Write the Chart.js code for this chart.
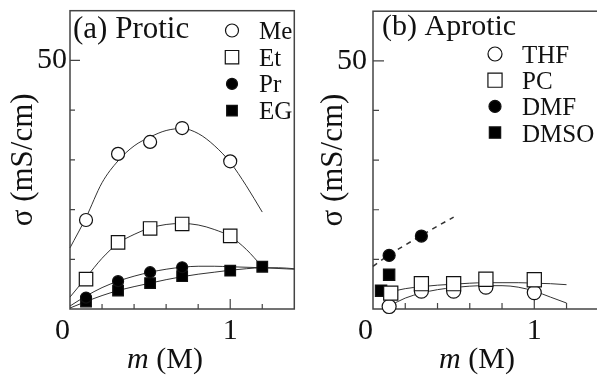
<!DOCTYPE html>
<html><head><meta charset="utf-8">
<script src="https://cdn.jsdelivr.net/npm/chart.js@4.4.1/dist/chart.umd.min.js"></script>
<style>
html,body{margin:0;padding:0;background:#fff;overflow:hidden}
#wrap{position:relative;width:597px;height:378px;overflow:hidden;background:#fff}
#pa{position:absolute;left:0;top:0;width:305px;height:378px}
#pb{position:absolute;left:300px;top:0;width:310px;height:378px}
</style></head><body>
<div id="wrap"><div id="pa"><canvas id="ca"></canvas></div><div id="pb"><canvas id="cb"></canvas></div></div>
<script>
// ---------- data: (a) protic ----------
const meM = [0.1, 0.3, 0.5, 0.7, 1.0];
const meSigma = [17.9, 31.2, 33.6, 36.4, 29.7];
const etM = [0.1, 0.3, 0.5, 0.7, 1.0];
const etSigma = [6.0, 13.4, 16.2, 17.1, 14.7];
const prM = [0.1, 0.3, 0.5, 0.7];
const prSigma = [2.3, 5.6, 7.4, 8.4];
const egM = [0.1, 0.3, 0.5, 0.7, 1.0, 1.2];
const egSigma = [1.5, 3.7, 5.2, 6.6, 7.7, 8.5];
// fitted curves
const meFitM = [0, 0.1, 0.2, 0.3, 0.4, 0.5, 0.6, 0.7, 0.8, 0.9, 1.0, 1.1, 1.2];
const meFit = [12.3, 18.4, 25.4, 29.8, 32.8, 34.6, 35.9, 36.3, 35.3, 32.9, 29.5, 24.8, 19.5];
const etFitM = [0, 0.1, 0.2, 0.3, 0.4, 0.5, 0.6, 0.7, 0.8, 0.9, 1.0, 1.1, 1.2];
const etFit = [2.4, 6.3, 10.2, 13.2, 15.0, 16.3, 17.0, 17.2, 16.9, 16.0, 14.6, 12.0, 8.5];
const prFitM = [0, 0.1, 0.2, 0.3, 0.4, 0.5, 0.6, 0.7, 0.8, 0.9, 1.0, 1.2, 1.4];
const prFit = [0.6, 2.6, 4.3, 5.6, 6.6, 7.4, 8.0, 8.4, 8.6, 8.6, 8.5, 8.3, 8.0];
const egFitM = [0, 0.1, 0.2, 0.3, 0.4, 0.5, 0.6, 0.7, 0.8, 0.9, 1.0, 1.1, 1.2, 1.3, 1.4];
const egFit = [0.2, 1.5, 2.7, 3.7, 4.5, 5.2, 5.9, 6.5, 7.0, 7.4, 7.8, 8.1, 8.3, 8.3, 8.1];

// ---------- data: (b) aprotic ----------
const thfM = [0.1, 0.3, 0.5, 0.7, 1.0];
const thfSigma = [0.5, 3.6, 3.6, 4.4, 3.3];
const pcM = [0.11, 0.3, 0.5, 0.7, 1.0];
const pcSigma = [3.2, 5.1, 5.1, 6.0, 5.9];
const dmfM = [0.1, 0.3];
const dmfSigma = [10.8, 14.7];
const dmsoM = [0.05, 0.1];
const dmsoSigma = [3.7, 6.9];
const thfFitM = [0.1, 0.2, 0.3, 0.4, 0.5, 0.6, 0.7, 0.8, 0.9, 1.0, 1.1, 1.2];
const thfFit = [0.6, 2.2, 3.2, 3.9, 4.3, 4.6, 4.7, 4.7, 4.4, 3.6, 2.4, 1.2];
const pcFitM = [0.1, 0.2, 0.3, 0.4, 0.5, 0.6, 0.7, 0.8, 0.9, 1.0, 1.1, 1.2];
const pcFit = [3.4, 4.1, 4.5, 4.8, 5.0, 5.2, 5.3, 5.3, 5.3, 5.2, 5.1, 4.9];
const dmfFitM = [0, 0.1, 0.2, 0.3, 0.4, 0.5];
const dmfFit = [8.6, 10.9, 12.9, 14.8, 16.7, 18.5];

// ---------- ticks ----------
const xLabelTicks = [0, 1];
const xMinorTicks = [0.2, 0.4, 0.6, 0.8, 1.2];
const xMajorTicks = [1];
const yLabelTicks = [50];
const yMinorTicks = [10, 20, 30, 40];
const yMajorTicks = [50];

const FONT = "'Liberation Serif','Times New Roman',serif";
const INK = '#111';

function pts(xs, ys) { return xs.map((v, i) => ({x: v, y: ys[i]})); }
function curve(xs, ys, dash) {
  return {data: pts(xs, ys), showLine: true, pointRadius: 0, borderColor: '#333',
    borderWidth: dash ? 1.5 : 1, borderDash: dash ? [5, 5] : [], cubicInterpolationMode: 'monotone',
    order: 10, clip: false, isMarker: false};
}
function marker(label, xs, ys, style, r, filled, order) {
  return {label, data: pts(xs, ys), showLine: false, pointStyle: style, pointRadius: r,
    pointBackgroundColor: filled ? '#000' : '#fff', pointBorderColor: INK, pointBorderWidth: 1.2,
    order, clip: false, isMarker: true};
}

function drawMark(ctx, style, r, fill, x, y) {
  ctx.save();
  ctx.fillStyle = fill; ctx.strokeStyle = INK; ctx.lineWidth = 1.2;
  ctx.beginPath();
  if (style === 'rect') { const s = r * Math.SQRT1_2; ctx.rect(x - s, y - s, 2 * s, 2 * s); }
  else { ctx.arc(x, y, r, 0, Math.PI * 2); }
  ctx.fill(); ctx.stroke();
  ctx.restore();
}

const panelPlugin = {
  id: 'panel',
  beforeDatasetsDraw(chart, args, o) {
    const {ctx, chartArea: a, scales: {x, y}} = chart;
    ctx.save();
    ctx.strokeStyle = '#444'; ctx.lineWidth = 1.5;
    ctx.strokeRect(a.left, a.top, a.right - a.left, a.bottom - a.top);
    ctx.lineWidth = 1.2;
    ctx.beginPath();
    yMinorTicks.forEach(v => { const p = y.getPixelForValue(v); ctx.moveTo(a.left, p); ctx.lineTo(a.left + o.minorLen, p); });
    yMajorTicks.forEach(v => { const p = y.getPixelForValue(v); ctx.moveTo(a.left, p); ctx.lineTo(a.left + o.majorLen, p); });
    xMinorTicks.forEach(v => { const p = x.getPixelForValue(v); ctx.moveTo(p, a.bottom); ctx.lineTo(p, a.bottom - o.minorLen); });
    xMajorTicks.forEach(v => { const p = x.getPixelForValue(v); ctx.moveTo(p, a.bottom); ctx.lineTo(p, a.bottom - o.majorLen); });
    ctx.stroke();
    ctx.restore();
  },
  afterDraw(chart, args, o) {
    const {ctx, chartArea: a} = chart;
    ctx.save();
    ctx.fillStyle = INK;
    ctx.textBaseline = 'alphabetic';
    ctx.textAlign = 'left';
    // panel title
    ctx.font = o.titleSize + 'px ' + FONT;
    ctx.fillText(o.title, o.titleX, o.titleY);
    // legend
    ctx.font = o.legendSize + 'px ' + FONT;
    const items = chart.data.datasets.filter(d => d.isMarker).sort((p, q) => p.legendIndex - q.legendIndex);
    items.forEach((d, i) => {
      const by = o.legendY + i * o.legendStep;
      drawMark(ctx, d.pointStyle, d.pointRadius * o.legendScale, d.pointBackgroundColor, o.legendX, by - o.markerLift);
      ctx.fillStyle = INK;
      ctx.fillText(d.label, o.legendTextX, by);
    });
    // x-axis title: italic m + (M)
    const f1 = 'italic 30px ' + FONT, f2 = '30px ' + FONT;
    ctx.font = f1; const w1 = ctx.measureText('m').width;
    ctx.font = f2; const w2 = ctx.measureText(' (M)').width;
    const x0 = a.left + o.xTitleOffset - (w1 + w2) / 2;
    ctx.font = f1; ctx.fillText('m', x0, o.xTitleY);
    ctx.font = f2; ctx.fillText(' (M)', x0 + w1, o.xTitleY);
    ctx.restore();
  }
};

function scalesFor(yWidth, yTickPad, yTitlePad) {
  return {
    x: {
      type: 'linear', min: 0, max: 1.4,
      afterBuildTicks(s) { s.ticks = xLabelTicks.map(v => ({value: v})); },
      afterFit(s) { s.height = 69; s.paddingLeft = 0; s.paddingRight = 0; },
      grid: {display: false, drawTicks: false}, border: {display: false},
      ticks: {autoSkip: false, maxRotation: 0, minRotation: 0, padding: 4, color: INK,
        font: {family: FONT, size: 30},
        callback: v => (Math.abs(v) < 1e-9 ? '0  ' : String(Math.round(v)))}
    },
    y: {
      type: 'linear', min: 0, max: 60,
      afterBuildTicks(s) { s.ticks = yLabelTicks.map(v => ({value: v})); },
      afterFit(s) { s.width = yWidth; s.paddingTop = 0; s.paddingBottom = 0; },
      grid: {display: false, drawTicks: false}, border: {display: false},
      ticks: {padding: yTickPad, color: INK, font: {family: FONT, size: 30}, callback: v => String(v)},
      title: {display: true, text: 'σ (mS/cm)', color: INK, font: {family: FONT, size: 31},
        padding: {top: yTitlePad, bottom: 0}}
    }
  };
}

const dsA = [
  curve(meFitM, meFit), curve(etFitM, etFit), curve(prFitM, prFit), curve(egFitM, egFit),
  Object.assign(marker('Me', meM, meSigma, 'circle', 6.5, false, 2), {legendIndex: 0}),
  Object.assign(marker('Et', etM, etSigma, 'rect', 9.5, false, 2), {legendIndex: 1}),
  Object.assign(marker('Pr', prM, prSigma, 'circle', 5.5, true, 1), {legendIndex: 2}),
  Object.assign(marker('EG', egM, egSigma, 'rect', 7.5, true, 1), {legendIndex: 3})
];
const dsB = [
  curve(thfFitM, thfFit), curve(pcFitM, pcFit), curve(dmfFitM, dmfFit, true),
  Object.assign(marker('THF', thfM, thfSigma, 'circle', 7, false, 4), {legendIndex: 0}),
  Object.assign(marker('PC', pcM, pcSigma, 'rect', 10, false, 1), {legendIndex: 1}),
  Object.assign(marker('DMF', dmfM, dmfSigma, 'circle', 6, true, 2), {legendIndex: 2}),
  Object.assign(marker('DMSO', dmsoM, dmsoSigma, 'rect', 8, true, 3), {legendIndex: 3})
];

function makeChart(id, datasets, padRight, yWidth, yTickPad, yTitlePad, panel) {
  return new Chart(document.getElementById(id), {
    type: 'scatter',
    data: {datasets},
    options: {
      responsive: true, maintainAspectRatio: false, animation: false, events: [],
      layout: {padding: {top: 5, right: padRight, left: 0, bottom: 0}},
      plugins: {legend: {display: false}, tooltip: {enabled: false}, panel},
      scales: scalesFor(yWidth, yTickPad, yTitlePad)
    },
    plugins: [panelPlugin]
  });
}

makeChart('ca', dsA, 8, 70, 3, 5, {
  title: '(a) Protic', titleSize: 31, titleX: 73, titleY: 38,
  legendSize: 25, legendX: 232, legendTextX: 259, legendY: 39, legendStep: 26.7, markerLift: 8.5, legendScale: 1,
  xTitleOffset: 95, xTitleY: 368, minorLen: 5, majorLen: 10
});
makeChart('cb', dsB, 9, 73, 6, 15, {
  title: '(b) Aprotic', titleSize: 30, titleX: 82, titleY: 35,
  legendSize: 25, legendX: 195, legendTextX: 222, legendY: 63, legendStep: 26.2, markerLift: 9, legendScale: 1,
  xTitleOffset: 104, xTitleY: 368, minorLen: 6, majorLen: 11
});
</script>
</body></html>
